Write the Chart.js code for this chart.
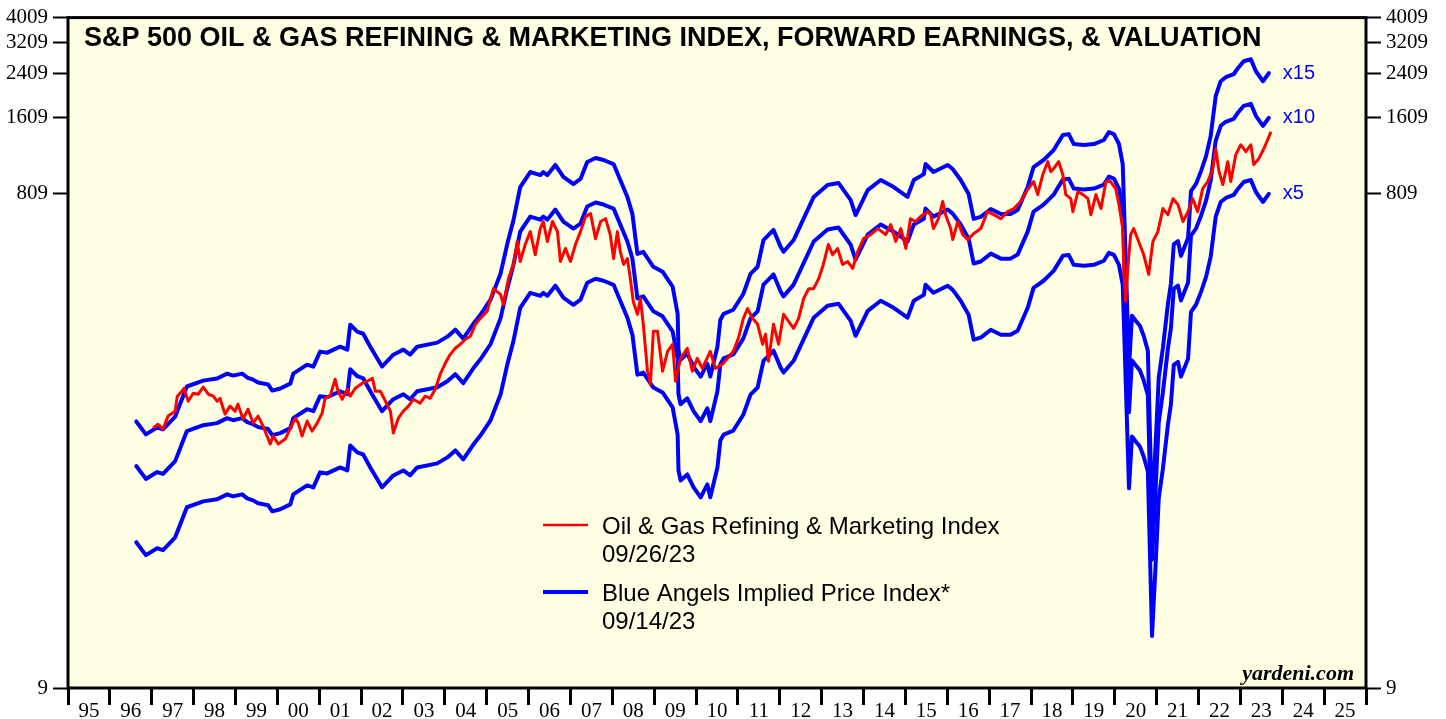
<!DOCTYPE html>
<html>
<head>
<meta charset="utf-8">
<title>S&amp;P 500 Oil &amp; Gas Refining &amp; Marketing Index</title>
<script src="https://cdn.jsdelivr.net/npm/chart.js@4.4.0/dist/chart.umd.min.js"></script>
<style>
  html, body { margin: 0; padding: 0; background: #fff; }
  #wrap { width: 1446px; height: 719px; }
</style>
</head>
<body>
<div id="wrap"><canvas id="chart" width="1446" height="719"></canvas></div>
<script>
/* ---------- Data ---------- */
// Oil & Gas Refining & Marketing price index
var redDates = [
  1997.03,1997.15,1997.27,1997.39,1997.56,1997.61,1997.72,1997.77,1997.87,1997.99,
  1998.11,1998.23,1998.35,1998.47,1998.56,1998.63,1998.75,1998.87,1998.99,1999.06,
  1999.18,1999.30,1999.42,1999.54,1999.66,1999.83,1999.90,2000.02,2000.19,2000.31,
  2000.43,2000.50,2000.59,2000.71,2000.83,2000.95,2001.07,2001.14,2001.26,2001.38,
  2001.45,2001.55,2001.67,2001.74,2001.86,2002.03,2002.15,2002.27,2002.34,2002.46,
  2002.58,2002.70,2002.77,2002.89,2003.01,2003.13,2003.25,2003.41,2003.53,2003.65,
  2003.77,2003.89,2004.01,2004.13,2004.25,2004.37,2004.49,2004.61,2004.73,2004.85,
  2005.01,2005.16,2005.33,2005.40,2005.52,2005.64,2005.73,2005.80,2005.92,2006.04,
  2006.16,2006.28,2006.35,2006.45,2006.57,2006.69,2006.76,2006.88,2007.00,2007.12,
  2007.24,2007.36,2007.48,2007.60,2007.72,2007.84,2007.95,2008.03,2008.12,2008.19,
  2008.27,2008.36,2008.43,2008.50,2008.60,2008.67,2008.74,2008.84,2008.91,2008.98,
  2009.08,2009.20,2009.32,2009.44,2009.51,2009.63,2009.79,2009.91,2010.03,2010.15,
  2010.34,2010.46,2010.63,2010.75,2010.89,2011.01,2011.13,2011.23,2011.35,2011.47,
  2011.59,2011.66,2011.73,2011.85,2011.97,2012.09,2012.21,2012.33,2012.45,2012.57,
  2012.69,2012.81,2012.93,2013.04,2013.16,2013.26,2013.38,2013.50,2013.62,2013.74,
  2013.86,2014.00,2014.17,2014.34,2014.53,2014.65,2014.77,2014.89,2015.01,2015.12,
  2015.24,2015.36,2015.53,2015.60,2015.67,2015.79,2015.89,2015.96,2016.08,2016.13,
  2016.25,2016.37,2016.49,2016.63,2016.80,2016.96,2017.11,2017.28,2017.44,2017.59,
  2017.75,2017.92,2018.06,2018.16,2018.28,2018.40,2018.47,2018.54,2018.66,2018.76,
  2018.83,2018.95,2019.00,2019.12,2019.24,2019.36,2019.43,2019.55,2019.67,2019.79,
  2019.90,2020.02,2020.10,2020.19,2020.22,2020.26,2020.31,2020.38,2020.45,2020.57,
  2020.69,2020.81,2020.91,2021.03,2021.15,2021.27,2021.39,2021.51,2021.63,2021.75,
  2021.86,2021.98,2022.10,2022.22,2022.34,2022.41,2022.49,2022.58,2022.70,2022.77,
  2022.89,2023.01,2023.13,2023.25,2023.32,2023.44,2023.56,2023.66,2023.73
];
var redValues = [
  95.7,99.2,94.9,106.8,111.7,128.0,133.9,137.6,122.3,131.5,
  130.3,138.9,130.3,128.0,122.3,125.6,108.7,116.9,111.7,119.0,
  103.9,113.7,100.2,106.8,97.5,82.8,89.1,82.8,86.7,95.7,
  104.8,100.2,89.1,102.0,93.2,100.2,109.7,125.6,128.0,149.4,
  133.9,124.5,136.4,128.0,137.6,144.1,146.7,150.6,133.9,133.9,
  122.3,111.7,91.5,104.8,111.7,116.9,124.5,120.1,128.0,125.6,
  136.4,156.3,172.6,187.3,197.9,205.3,214.8,220.8,246.2,259.8,
  277,340.5,323.0,294.8,373.3,424.2,523,436,508.9,572,
  464.1,588.1,627,523,627,572,436,490.6,436,508.9,
  572,655.8,673.7,536.5,627,643.5,556.6,447.4,572,477,
  424.2,447.4,373.3,303,269.5,311.4,246.2,160.6,142.7,231,
  231,160.6,192.5,205.3,146.7,180.6,197.9,160.6,180.6,164.9,
  192.5,164.9,171.1,180.6,192.5,216.7,259.8,284.2,259.8,246.2,
  205.3,224.8,175.8,246.2,205.3,269.5,253,237.3,259.8,311.4,
  340.5,340.5,373.3,424.2,508.9,464.1,490.6,424.2,436,409.0,
  477,536.5,556.6,588.1,556.6,610.1,523,588.1,490.6,643.5,
  627,655.8,686,667.5,588.1,643.5,752,667.5,588.1,532.0,
  627,556.6,532.0,561.7,588.1,686,667.5,643.5,686,705.4,
  752,838.9,902,800.8,960.4,1081,987,1014,1081,960.4,
  800.8,772.0,686,823,800.8,772.0,667.5,800.8,705.4,902,
  902,846.1,731.7,588.1,387.3,303,409.0,556.6,588.1,523,
  464.1,387.3,523,572,705.4,667.5,772.0,731.7,627,686,
  772.0,686,846.1,902,1014,1215.6,987,877.6,1081,902,
  1152,1261,1184,1261,1052,1110.6,1215.6,1331,1419
];

// Forward earnings (the Blue Angels are earnings times a fixed P/E)
var earnDates = [
  1996.63,1996.86,1997.13,1997.27,1997.56,1997.84,1998.23,1998.56,1998.80,1998.94,
  1999.16,1999.28,1999.42,1999.54,1999.78,1999.88,2000.07,2000.31,2000.38,2000.71,
  2000.86,2001.02,2001.19,2001.50,2001.67,2001.74,2001.91,2002.05,2002.22,2002.50,
  2002.77,2003.01,2003.17,2003.34,2003.82,2004.06,2004.25,2004.44,2004.68,2004.85,
  2005.09,2005.33,2005.49,2005.64,2005.80,2006.04,2006.28,2006.35,2006.45,2006.64,
  2006.83,2007.07,2007.24,2007.40,2007.60,2007.79,2008.03,2008.19,2008.36,2008.48,
  2008.60,2008.74,2008.98,2009.20,2009.44,2009.56,2009.58,2009.63,2009.79,2009.94,
  2010.11,2010.27,2010.34,2010.51,2010.58,2010.66,2010.89,2011.13,2011.30,2011.47,
  2011.61,2011.85,2012.02,2012.09,2012.33,2012.81,2013.14,2013.40,2013.69,2013.81,
  2014.10,2014.41,2014.72,2015.05,2015.20,2015.44,2015.48,2015.67,2016.01,2016.13,
  2016.32,2016.51,2016.63,2016.80,2017.04,2017.28,2017.51,2017.68,2017.92,2018.06,
  2018.30,2018.54,2018.76,2018.90,2019.02,2019.26,2019.50,2019.74,2019.86,2019.98,
  2020.10,2020.19,2020.34,2020.41,2020.50,2020.60,2020.69,2020.79,2020.89,2020.98,
  2021.05,2021.15,2021.27,2021.34,2021.41,2021.51,2021.58,2021.75,2021.82,2021.94,
  2022.06,2022.18,2022.29,2022.41,2022.53,2022.65,2022.84,2022.94,2023.08,2023.25,
  2023.37,2023.54,2023.68
];
var fwdEarnings = [
  6.78,6.03,6.42,6.31,7.09,9.32,9.83,10.02,10.48,10.29,
  10.48,10.11,9.92,9.66,9.49,8.98,9.15,9.57,10.48,11.37,
  11.17,12.80,12.68,13.39,13.03,16.35,15.35,15.06,13.39,11.17,
  12.45,13.03,12.45,13.39,13.89,14.67,15.63,14.41,16.49,17.90,
  20.53,25.98,34.05,42.42,57.2,65.58,63.8,65.58,63.8,69.94,
  62.7,58.81,61.57,71.89,74.52,73.17,70.54,61.01,52.3,44.74,
  31.14,31.74,27.7,26.48,23.1,18.06,13.03,11.90,12.56,11.17,
  10.20,11.47,10.20,13.39,17.11,18.06,18.73,21.67,25.98,27.7,
  35.32,38.73,33.2,31.74,35.32,52.3,58.31,59.38,50.89,44.36,
  55.66,61.01,57.2,52.3,61.01,64.35,70.54,65.58,69.94,67.37,
  61.01,53.65,42.82,43.6,46.84,44.74,44.74,46.41,57.2,68.6,
  73.17,80.08,91.79,92.58,84.61,83.89,84.61,87.76,94.36,92.58,
  84.61,70.54,11.07,17.73,16.95,16.19,14.79,12.91,2.89,5.71,
  10.11,13.27,19.79,23.73,34.05,34.99,30.58,35.97,55.14,58.81,
  66.13,75.8,90.9,130.7,149.8,155.4,159.65,168.67,179.7,183.0,
  164.07,149.8,161.18
];

var multiples = [5, 10, 15];
var yTicks = [9, 809, 1609, 2409, 3209, 4009];
var xMin = 1995, xMax = 2026;

/* ---------- Helpers ---------- */
function toPoints(xs, ys, k) {
  var n = Math.min(xs.length, ys.length);
  var out = [];
  for (var i = 0; i < n; i++) out.push({ x: xs[i], y: ys[i] * (k || 1) });
  return out;
}

var RED = '#ff0000';
var BLUE = '#0000ff';
var SANS = '"Liberation Sans", Arial, sans-serif';
var SERIF = '"Liberation Serif", "Times New Roman", serif';

var datasets = [{
  label: 'Oil & Gas Refining & Marketing Index',
  data: toPoints(redDates, redValues),
  borderColor: RED,
  borderWidth: 3,
  pointRadius: 0,
  borderJoinStyle: 'round',
  tension: 0
}];
multiples.forEach(function (m) {
  datasets.push({
    label: 'x' + m,
    data: toPoints(earnDates, fwdEarnings, m),
    borderColor: BLUE,
    borderWidth: 4,
    pointRadius: 0,
    borderJoinStyle: 'round',
    borderCapStyle: 'round',
    tension: 0
  });
});

/* ---------- Decorations ---------- */
var decor = {
  id: 'decor',
  beforeDraw: function (chart) {
    var ctx = chart.ctx, a = chart.chartArea;
    ctx.save();
    ctx.fillStyle = '#ffffff';
    ctx.fillRect(0, 0, chart.width, chart.height);
    ctx.fillStyle = '#ffffe3';
    ctx.fillRect(a.left, a.top, a.right - a.left, a.bottom - a.top);
    ctx.restore();
  },
  afterDraw: function (chart) {
    var ctx = chart.ctx, a = chart.chartArea;
    var xs = chart.scales.x, ys = chart.scales.y;
    ctx.save();

    // frame
    ctx.strokeStyle = '#000';
    ctx.lineWidth = 3;
    ctx.strokeRect(a.left, a.top, a.right - a.left, a.bottom - a.top);

    // title
    ctx.fillStyle = '#000';
    ctx.textBaseline = 'alphabetic';
    ctx.textAlign = 'left';
    ctx.font = 'bold 27px ' + SANS;
    ctx.fillText('S&P 500 OIL & GAS REFINING & MARKETING INDEX, FORWARD EARNINGS, & VALUATION', 84, 46);

    // legend
    ctx.lineCap = 'butt';
    ctx.strokeStyle = RED; ctx.lineWidth = 2.5;
    ctx.beginPath(); ctx.moveTo(543, 525); ctx.lineTo(588, 525); ctx.stroke();
    ctx.strokeStyle = BLUE; ctx.lineWidth = 4;
    ctx.beginPath(); ctx.moveTo(543, 592); ctx.lineTo(588, 592); ctx.stroke();
    ctx.fillStyle = '#000';
    ctx.font = '24px ' + SANS;
    ctx.fillText('Oil & Gas Refining & Marketing Index', 602, 534);
    ctx.fillText('09/26/23', 602, 562);
    ctx.fillText('Blue Angels Implied Price Index*', 602, 601);
    ctx.fillText('09/14/23', 602, 629);

    // multiple labels at the end of each blue line
    ctx.fillStyle = BLUE;
    ctx.font = '20px ' + SANS;
    ctx.textBaseline = 'middle';
    var lastX = earnDates[earnDates.length - 1];
    var lastE = fwdEarnings[fwdEarnings.length - 1];
    multiples.forEach(function (m) {
      ctx.fillText('x' + m, xs.getPixelForValue(lastX) + 14, ys.getPixelForValue(lastE * m));
    });

    // source
    ctx.fillStyle = '#000';
    ctx.textBaseline = 'alphabetic';
    ctx.textAlign = 'right';
    ctx.font = 'italic bold 22px ' + SERIF;
    ctx.fillText('yardeni.com', 1354, 680);
    ctx.restore();
  }
};

/* ---------- Scales ---------- */
function yAxis(pos, width) {
  return {
    type: 'logarithmic',
    position: pos,
    min: yTicks[0],
    max: yTicks[yTicks.length - 1],
    afterBuildTicks: function (scale) {
      scale.ticks = yTicks.map(function (v) { return { value: v }; });
    },
    afterFit: function (scale) { scale.width = width; },
    border: { display: false },
    grid: { drawOnChartArea: false, drawTicks: true, tickLength: 15, tickColor: '#000', tickWidth: 2 },
    ticks: {
      color: '#000',
      padding: 5,
      font: { family: SERIF, size: 21 },
      callback: function (v) { return String(v); }
    }
  };
}

new Chart(document.getElementById('chart'), {
  type: 'line',
  data: { datasets: datasets },
  plugins: [decor],
  options: {
    responsive: false,
    animation: false,
    devicePixelRatio: 1,
    parsing: false,
    layout: { padding: { top: 15, left: 0, right: 0, bottom: 0 } },
    plugins: { legend: { display: false }, tooltip: { enabled: false } },
    scales: {
      x: {
        type: 'linear',
        position: 'bottom',
        min: xMin,
        max: xMax,
        afterBuildTicks: function (scale) {
          var t = [];
          for (var i = 0; i <= (xMax - xMin) * 2; i++) t.push({ value: xMin + i / 2 });
          scale.ticks = t;
        },
        afterFit: function (scale) { scale.height = 31; },
        border: { display: false },
        grid: {
          drawOnChartArea: false,
          drawTicks: true,
          tickLength: 17,
          tickWidth: 3,
          tickColor: function (c) {
            return c.tick && Number.isInteger(c.tick.value) ? '#000' : 'rgba(0,0,0,0)';
          }
        },
        ticks: {
          autoSkip: false,
          maxRotation: 0,
          minRotation: 0,
          padding: -6,
          color: '#000',
          font: { family: SERIF, size: 21 },
          callback: function (v) {
            if (Number.isInteger(v)) return '';
            var yr = Math.floor(v) % 100;
            return (yr < 10 ? '0' : '') + yr;
          }
        }
      },
      y: yAxis('left', 68),
      y2: yAxis('right', 80)
    }
  }
});
</script>
</body>
</html>
